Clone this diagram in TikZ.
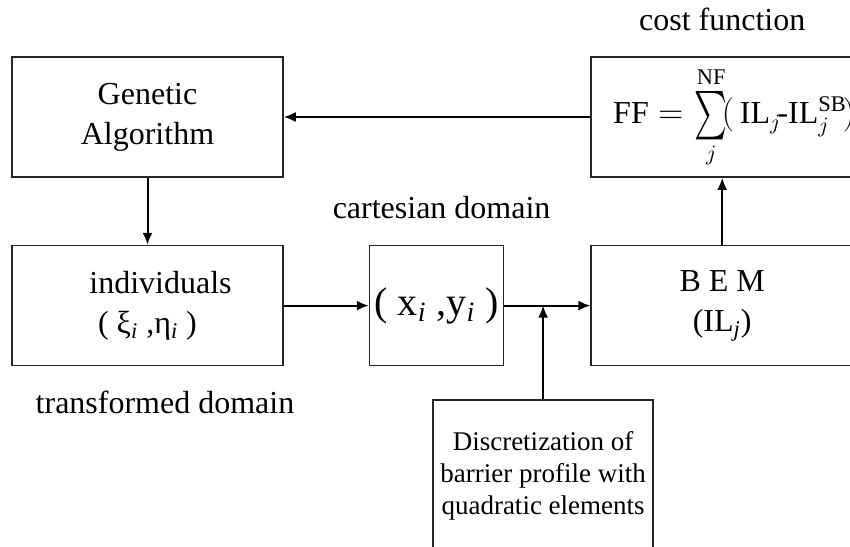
\documentclass[tikz,border=0pt]{standalone}
\usepackage{amsmath}
\usepackage{exscale}
\usepackage{fontspec}
\setmainfont{Liberation Serif}
\usetikzlibrary{arrows.meta, positioning, calc}

\newcommand{\narrowsum}{\mathop{\vcenter{\hbox{\scalebox{0.9}[1.4]{$\textstyle\sum$}}}}}

\begin{document}
\begin{tikzpicture}[
    node distance=33.5pt and 42.5pt,
    block/.style={draw=black!85, line width=0.8pt, minimum height=60pt, minimum width=#1,
                  align=center, inner sep=0pt, font=\fontsize{16}{20}\selectfont},
    block/.default=135.5pt,
    arrow/.style={-{Latex[length=6pt,width=5pt]}, line width=1pt},
    caption/.style={font=\fontsize{16}{20}\selectfont}
]

\useasboundingbox (0,0) rectangle (425pt,-273pt);

% Optimisation loop
\node[block] (ga) at (73.75pt,-58.5pt) {Genetic\\Algorithm};
\node[block, below=of ga] (ind) {\hspace*{13pt}individuals\\( ξ\textsubscript{\textit{i}} ,η\textsubscript{\textit{i}} )};
\node[block=67pt, right=of ind] (xy) {\fontsize{20}{22}\selectfont ( x\textsubscript{\textit{i}} ,y\textsubscript{\textit{i}} )};
\node[block=131pt, right=43pt of xy] (bem) {B E M\\(IL\textsubscript{\textit{j}})};
\node[block=131pt, above=of bem] (ff) {\fontsize{16}{20}\selectfont\hspace*{11pt}\makebox[120pt][l]{$\mathrm{FF}\mkern5mu{=}\mkern3mu\narrowsum\limits_{j}^{\mathrm{NF}}\!(\mkern3mu\mathrm{IL}_{j}\mkern-2mu\text{-}\mathrm{IL}_{j}^{\mathrm{SB}}\mkern-2mu)$}};

% Geometry input
\coordinate (join) at ($(xy.east)!0.45!(bem.west)$);
\node[block=110pt, minimum height=76pt, below=46.75pt of join, font=\fontsize{13.5}{16}\selectfont] (disc) {Discretization of\\barrier profile with\\quadratic elements};

% Captions
\node[caption, above=9pt of ff] (cost) {cost function};
\node[caption, above=9.5pt of xy, xshift=2.5pt] (cart) {cartesian domain};
\node[caption, below=8.5pt of ind, xshift=8.75pt] (trans) {transformed domain};

% Arrows
\draw[arrow] (ff) -- (ga);
\draw[arrow] (ga) -- (ind);
\draw[arrow] (ind) -- (xy);
\draw[arrow] (xy) -- (bem);
\draw[arrow] (disc) -- (join);
\draw[arrow] (bem) -- (ff);

\end{tikzpicture}
\end{document}
